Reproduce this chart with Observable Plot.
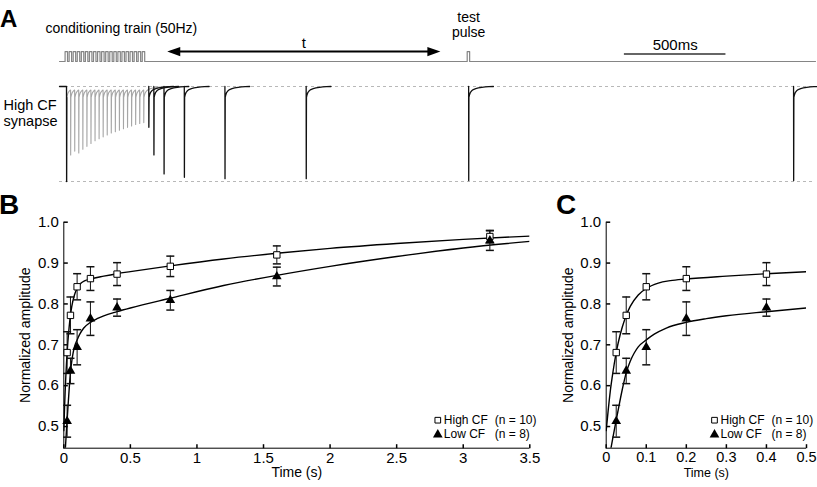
<!DOCTYPE html>
<html><head><meta charset="utf-8">
<script src="https://cdn.jsdelivr.net/npm/d3@7"></script>
<script src="https://cdn.jsdelivr.net/npm/@observablehq/plot@0.6"></script>
<style>
html,body{margin:0;padding:0;background:#fff;}
#fig{position:relative;width:817px;height:487px;overflow:hidden;font-family:"Liberation Sans",Arial,Helvetica,sans-serif;}
#fig svg{position:absolute;}
.letter{position:absolute;font-weight:bold;line-height:1;font-family:"Liberation Sans",Arial,Helvetica,sans-serif;color:#000;}
</style></head><body><div id="fig"></div>
<script>
// ---------- Panel A: schematic protocol (ms, normalized current) ----------
const trainTimes = [0,20,40,60,80,100,120,140,160,180,200,220,240,260,280,300,320,340,360,380];
const trainAmps  = [1.0,0.72,0.68,0.70,0.66,0.63,0.60,0.57,0.55,0.53,0.51,0.49,0.475,0.46,0.445,0.43,0.415,0.40,0.39,0.38];
const testIntervals = [25,50,100,200,400,800,1600,3200];
const testAmps      = [0.43,0.72,0.92,0.955,0.97,0.97,0.99,0.99];
const stimTestInterval = 1600;
const tailDt  = [1.5,4,8,15,20,23,35,48,65,82,100,122];
const tailVal = [-0.115,-0.09,-0.065,-0.045,-0.037,-0.032,-0.022,-0.015,-0.009,-0.005,-0.002,0];
const arrowSpan = [496, 1841];
const scaleBarStart = 2747, scaleBarLength = 500;

// ---------- Panels B, C: recovery data ----------
const times    = [0.025,0.05,0.1,0.2,0.4,0.8,1.6,3.2];
const highMean = [0.681,0.772,0.842,0.862,0.873,0.892,0.920,0.965];
const highSem  = [0.051,0.045,0.032,0.029,0.028,0.025,0.022,0.015];
const lowMean  = [0.513,0.636,0.694,0.764,0.791,0.809,0.867,0.955];
const lowSem   = [0.039,0.031,0.043,0.041,0.021,0.024,0.023,0.024];
const highFitT = [0,0.005,0.01,0.015,0.02,0.025,0.03,0.04,0.05,0.06,0.08,0.1,0.13,0.16,0.2,0.3,0.4,0.5,0.8,1.2,1.6,2.0,2.5,3.0,3.5];
const highFitY = [0.49,0.54,0.585,0.621,0.653,0.681,0.705,0.743,0.772,0.794,0.822,0.838,0.851,0.857,0.861,0.868,0.874,0.879,0.893,0.910,0.924,0.936,0.948,0.958,0.966];
const lowFitT  = [0.005,0.01,0.015,0.02,0.025,0.03,0.04,0.05,0.06,0.07,0.08,0.1,0.12,0.15,0.2,0.25,0.3,0.4,0.5,0.8,1.2,1.6,2.0,2.5,3.0,3.5];
const lowFitY  = [0.41,0.437,0.464,0.49,0.516,0.541,0.590,0.632,0.660,0.680,0.695,0.712,0.726,0.741,0.755,0.764,0.771,0.781,0.790,0.814,0.845,0.870,0.892,0.916,0.937,0.953];
const yTicks = [0.5,0.6,0.7,0.8,0.9,1.0];
const xTicksB = [0,0.5,1,1.5,2,2.5,3,3.5];
const xTicksC = [0,0.1,0.2,0.3,0.4,0.5];
const legendLabels = ["High CF", "Low CF"];
const legendN = ["(n = 10)", "(n = 8)"];

const FONT = '"Liberation Sans", Arial, Helvetica, sans-serif';
const fig = document.getElementById("fig");

// ----- custom symbols -----
const arrowLeft  = {draw(c){c.moveTo(0,0);c.lineTo(13,-4.6);c.lineTo(13,4.6);c.closePath();}};
const arrowRight = {draw(c){c.moveTo(0,0);c.lineTo(-13,-4.6);c.lineTo(-13,4.6);c.closePath();}};
const capSym     = {draw(c){c.moveTo(-4,0);c.lineTo(4,0);}};
const tickRight  = {draw(c){c.moveTo(0,0);c.lineTo(4,0);}};
const tickUp     = {draw(c){c.moveTo(0,0);c.lineTo(0,-4);}};

// ================= Panel A =================
const lastTrain = trainTimes[trainTimes.length-1];
const xDomA = [-34.5, 3688];
const STIM_BASE = 0.263, STIM_TOP = 0.368, ARROW_Y = 0.368, BAR_Y = 0.342;

const stimPulses = [...trainTimes, lastTrain + stimTestInterval];
const stimPath = [{t: xDomA[0], v: STIM_BASE}];
stimPulses.forEach(t => stimPath.push({t: t-7, v: STIM_BASE},{t: t-7, v: STIM_TOP},{t: t+5, v: STIM_TOP},{t: t+5, v: STIM_BASE}));
stimPath.push({t: xDomA[1], v: STIM_BASE});

const trainPath = [];
trainTimes.forEach((t0, i) => {
  if (i === 0) trainPath.push({t: t0, v: 0});
  trainPath.push({t: t0 + 0.5, v: -trainAmps[i]});
  const limit = i < trainTimes.length-1 ? trainTimes[i+1] - t0 : 1e9;
  tailDt.forEach((dt, j) => { if (dt <= limit) trainPath.push({t: t0 + dt, v: tailVal[j]}); });
});
const firstPath = [{t: xDomA[0], v: 0},{t: trainTimes[0], v: 0},{t: trainTimes[0]+0.5, v: -trainAmps[0]},{t: trainTimes[0]+1.5, v: tailVal[0]}];
const testPaths = [];
testIntervals.forEach((iv, k) => {
  const t0 = lastTrain + iv;
  testPaths.push({k, t: t0, v: 0},{k, t: t0+0.5, v: -testAmps[k]});
  tailDt.forEach((dt, j) => testPaths.push({k, t: t0 + dt, v: tailVal[j]}));
});

const plotA = Plot.plot({
  width: 817, height: 190, margin: 0,
  x: {domain: xDomA, range: [59, 815], axis: null},
  y: {domain: [-1, 0], range: [181, 86], axis: null},
  style: {fontFamily: FONT, background: "transparent"},
  marks: [
    Plot.ruleY([0, -1], {x1: xDomA[0], x2: xDomA[1], stroke: "#b8b8b8", strokeDasharray: "3,3", strokeWidth: 1}),
    Plot.line(stimPath, {x: "t", y: "v", stroke: "#858585", strokeWidth: 1.2}),
    Plot.line(trainPath, {x: "t", y: "v", stroke: "#a6a6a6", strokeWidth: 1.1}),
    Plot.line(firstPath, {x: "t", y: "v", stroke: "#111", strokeWidth: 1.3}),
    Plot.line(testPaths, {x: "t", y: "v", z: "k", stroke: "#111", strokeWidth: 1.3}),
    Plot.ruleY([ARROW_Y], {x1: arrowSpan[0] + 20, x2: arrowSpan[1] - 20, stroke: "#000", strokeWidth: 2}),
    Plot.dot([{t: arrowSpan[0], v: ARROW_Y}], {x: "t", y: "v", symbol: arrowLeft, fill: "#000", r: 5}),
    Plot.dot([{t: arrowSpan[1], v: ARROW_Y}], {x: "t", y: "v", symbol: arrowRight, fill: "#000", r: 5}),
    Plot.ruleY([BAR_Y], {x1: scaleBarStart, x2: scaleBarStart + scaleBarLength, stroke: "#333", strokeWidth: 1.5}),
    Plot.text(["t"], {x: (arrowSpan[0]+arrowSpan[1])/2, frameAnchor: "top", dy: 47, lineAnchor: "bottom", text: d => d, fontSize: 15}),
    Plot.text(["test"], {x: lastTrain + stimTestInterval, frameAnchor: "top", dy: 21.5, lineAnchor: "bottom", text: d => d, fontSize: 14}),
    Plot.text(["pulse"], {x: lastTrain + stimTestInterval, frameAnchor: "top", dy: 36, lineAnchor: "bottom", text: d => d, fontSize: 14}),
    Plot.text(["500ms"], {x: scaleBarStart + scaleBarLength/2, frameAnchor: "top", dy: 49, lineAnchor: "bottom", text: d => d, fontSize: 15}),
    Plot.text(["conditioning train (50Hz)"], {frameAnchor: "top-left", dx: 45, dy: 32, lineAnchor: "bottom", textAnchor: "start", text: d => d, fontSize: 14}),
    Plot.text(["High CF"], {frameAnchor: "top-left", dx: 3, dy: 109.5, lineAnchor: "bottom", textAnchor: "start", text: d => d, fontSize: 14.5}),
    Plot.text(["synapse"], {frameAnchor: "top-left", dx: 3, dy: 125, lineAnchor: "bottom", textAnchor: "start", text: d => d, fontSize: 14.5})
  ]
});
plotA.style.left = "0px"; plotA.style.top = "0px";
fig.appendChild(plotA);

// ================= Panels B & C =================
const Y0 = 0.447;
function recoveryPanel({width, marginLeft, marginRight, xDomain, xTicks, tickFont, tickDy, timeFont, timeBaseline}) {
  const inX = t => t <= xDomain[1] + 1e-9;
  const high = times.map((t, i) => ({t, m: highMean[i], lo: highMean[i]-highSem[i], hi: highMean[i]+highSem[i]})).filter(d => inX(d.t));
  const low  = times.map((t, i) => ({t, m: lowMean[i],  lo: lowMean[i]-lowSem[i],   hi: lowMean[i]+lowSem[i]})).filter(d => inX(d.t));
  const highFit = highFitT.map((t, i) => ({t, y: highFitY[i]})).filter(d => d.t <= xDomain[1] + 0.05);
  const lowFit  = lowFitT.map((t, i) => ({t, y: lowFitY[i]})).filter(d => d.t <= xDomain[1] + 0.05);
  const errs = [...high, ...low];
  return Plot.plot({
    width, height: 297, marginLeft, marginRight, marginTop: 31.7, marginBottom: 39.3,
    x: {domain: xDomain, axis: null},
    y: {domain: [Y0, 1.0], axis: null},
    style: {fontFamily: FONT, background: "transparent"},
    marks: [
      Plot.ruleX([xDomain[0]], {stroke: "#000", strokeWidth: 1}),
      Plot.ruleY([Y0], {stroke: "#000", strokeWidth: 1}),
      Plot.dot(yTicks, {x: xDomain[0], y: d => d, symbol: tickRight, stroke: "#000", fill: "none", r: 3}),
      Plot.dot(xTicks, {x: d => d, y: Y0, symbol: tickUp, stroke: "#000", fill: "none", r: 3}),
      Plot.text(yTicks, {x: xDomain[0], y: d => d, text: d => d3.format(".1f")(d), textAnchor: "end", dx: -5, fontSize: 15}),
      Plot.text(xTicks, {x: d => d, y: Y0, text: d => String(d), lineAnchor: "top", dy: tickDy, fontSize: tickFont}),
      Plot.text(["Time (s)"], {frameAnchor: "bottom", textAnchor: "middle", lineAnchor: "bottom", dy: timeBaseline, text: d => d, fontSize: timeFont}),
      Plot.text(["Normalized amplitude"], {frameAnchor: "left", textAnchor: "middle", lineAnchor: "middle", rotate: -90, dx: -38, text: d => d, fontSize: 14}),
      Plot.line(highFit, {x: "t", y: "y", curve: "monotone-x", clip: true, stroke: "#000", strokeWidth: 1.4}),
      Plot.line(lowFit,  {x: "t", y: "y", curve: "monotone-x", clip: true, stroke: "#000", strokeWidth: 1.4}),
      Plot.ruleX(errs, {x: "t", y1: "lo", y2: "hi", stroke: "#111", strokeWidth: 1}),
      Plot.dot(errs, {x: "t", y: "lo", symbol: capSym, stroke: "#111", fill: "none", r: 3}),
      Plot.dot(errs, {x: "t", y: "hi", symbol: capSym, stroke: "#111", fill: "none", r: 3}),
      Plot.dot(high, {x: "t", y: "m", symbol: "square", r: 3.6, fill: "#fff", stroke: "#000", strokeWidth: 1}),
      Plot.dot(low,  {x: "t", y: "m", symbol: "triangle", r: 3.6, fill: "#000"}),
      // legend
      Plot.dot([0], {frameAnchor: "bottom-right", dx: -92, dy: -28, symbol: "square", r: 3.2, fill: "#fff", stroke: "#000", strokeWidth: 1}),
      Plot.dot([0], {frameAnchor: "bottom-right", dx: -92, dy: -13.5, symbol: "triangle", r: 3.6, fill: "#000"}),
      Plot.text([legendLabels[0]], {frameAnchor: "bottom-right", dx: -86, dy: -28, textAnchor: "start", lineAnchor: "middle", text: d => d, fontSize: 12}),
      Plot.text([legendLabels[1]], {frameAnchor: "bottom-right", dx: -86, dy: -14, textAnchor: "start", lineAnchor: "middle", text: d => d, fontSize: 12}),
      Plot.text([legendN[0]], {frameAnchor: "bottom-right", dx: -35, dy: -28, textAnchor: "start", lineAnchor: "middle", text: d => d, fontSize: 12}),
      Plot.text([legendN[1]], {frameAnchor: "bottom-right", dx: -35, dy: -14, textAnchor: "start", lineAnchor: "middle", text: d => d, fontSize: 12})
    ]
  });
}
const plotB = recoveryPanel({width: 560, marginLeft: 63.3, marginRight: 30.7, xDomain: [0, 3.5], xTicks: xTicksB,
  tickFont: 15, tickDy: 4.5, timeFont: 14, timeBaseline: 28.5});
plotB.style.left = "0px"; plotB.style.top = "190px";
fig.appendChild(plotB);
const plotC = recoveryPanel({width: 257, marginLeft: 45.7, marginRight: 11, xDomain: [0, 0.5], xTicks: xTicksC,
  tickFont: 14.5, tickDy: 3.5, timeFont: 12.5, timeBaseline: 28.5});
plotC.style.left = "560px"; plotC.style.top = "190px";
fig.appendChild(plotC);

// panel letters
[["A", 24, 0, 7], ["B", 28, -1, 191.3], ["C", 28, 556, 191.3]].forEach(([s, f, l, t]) => {
  const d = document.createElement("div");
  d.className = "letter"; d.textContent = s;
  d.style.fontSize = f + "px"; d.style.left = l + "px"; d.style.top = t + "px";
  fig.appendChild(d);
});
</script>
</body></html>
